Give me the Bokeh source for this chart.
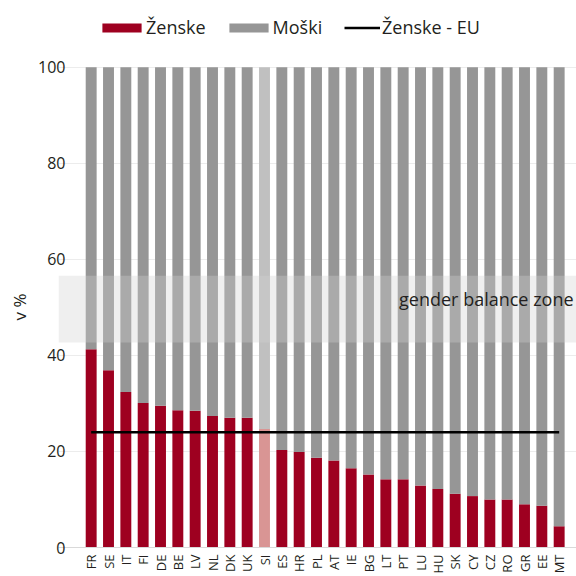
from bokeh.plotting import figure
from bokeh.models import (ColumnDataSource, Range1d, FixedTicker, BoxAnnotation,
                          Label, Legend, LegendItem, Title)
from bokeh.embed import file_html
from bokeh.resources import INLINE
import math

countries = ["FR", "SE", "IT", "FI", "DE", "BE", "LV", "NL", "DK", "UK", "SI", "ES", "HR", "PL",
             "AT", "IE", "BG", "LT", "PT", "LU", "HU", "SK", "CY", "CZ", "RO", "GR", "EE", "MT"]
women = [41.3, 36.9, 32.4, 30.1, 29.5, 28.6, 28.5, 27.4, 27.0, 27.0, 24.7, 20.3, 19.9, 18.7,
         18.1, 16.5, 15.2, 14.2, 14.2, 12.9, 12.2, 11.2, 10.7, 10.0, 10.0, 9.0, 8.7, 4.4]
total = 100
eu_women = 24.0
zone_low, zone_high = 42.7, 56.6
zone_label = "gender balance zone"
highlight = "SI"
y_ticks = [0, 20, 40, 60, 80, 100]
y_label = "v %"

RED, GREY = "#9e0020", "#969696"
RED_L, GREY_L = "#d99594", "#c0c0c0"
TXT = "#231f20"
FONT = "Open Sans"

n = len(countries)
xs = list(range(n))
src = ColumnDataSource(dict(
    x=xs,
    women=women,
    total=[total] * n,
    wcol=[RED_L if c == highlight else RED for c in countries],
    mcol=[GREY_L if c == highlight else GREY for c in countries],
))

# frame: x 56..576, y 0..549 (value 100 at pixel 67); extra headroom holds the legend
p = figure(width=576, height=576, x_range=Range1d(-1.885, n - 1 + 1.0),
           y_range=Range1d(0, 113.9),
           output_backend="svg", toolbar_location=None,
           min_border_left=56, min_border_right=0, min_border_top=0, min_border_bottom=27)
p.outline_line_color = None
p.background_fill_color = "white"
p.border_fill_color = "white"

rw = p.vbar(x="x", width=0.63, bottom=0, top="women", source=src,
            fill_color="wcol", line_color=None)
rm = p.vbar(x="x", width=0.63, bottom="women", top="total", source=src,
            fill_color="mcol", line_color=None)
rl = p.line(x=[xs[0], xs[-1]], y=[eu_women, eu_women], line_color="black", line_width=2.6)

zone = BoxAnnotation(bottom=zone_low, top=zone_high, fill_color="#d2d2d2", fill_alpha=0.35,
                     line_alpha=0)
p.add_layout(zone)
p.add_layout(Label(x=n - 1 + 0.83, y=51.7, text=zone_label, text_align="right",
                   text_baseline="middle", text_font=FONT, text_font_size="18px",
                   text_color=TXT))

# axes
p.xaxis.ticker = FixedTicker(ticks=xs)
p.xaxis.major_label_overrides = {i: c for i, c in enumerate(countries)}
p.xaxis.major_label_orientation = math.pi / 2
p.xaxis.major_label_text_font = FONT
p.xaxis.major_label_text_font_size = "13px"
p.xaxis.major_label_text_color = TXT
p.xaxis.major_label_standoff = 7
p.xaxis.major_tick_out = 0
p.xaxis.major_tick_in = 0
p.xaxis.minor_tick_out = 0
p.xaxis.minor_tick_in = 0
p.xaxis.major_tick_line_color = None
p.xaxis.minor_tick_line_color = None
p.xaxis.axis_line_color = "#d9d9d9"

p.yaxis.ticker = FixedTicker(ticks=y_ticks)
p.yaxis.major_label_text_font = FONT
p.yaxis.major_label_text_font_size = "16px"
p.yaxis.major_label_text_color = TXT
p.yaxis.major_label_standoff = -7
p.yaxis.major_tick_out = 0
p.yaxis.major_tick_in = 0
p.yaxis.minor_tick_out = 0
p.yaxis.minor_tick_in = 0
p.yaxis.major_tick_line_color = None
p.yaxis.minor_tick_line_color = None
p.yaxis.axis_line_color = None

# y-axis caption as a left-side title, centred on the 0-100 span (offset from frame bottom)
p.add_layout(Title(text=y_label, align="left", offset=227, text_font=FONT,
                   text_font_size="17px", text_font_style="normal", text_color=TXT),
             "left")

p.xgrid.grid_line_color = None
p.ygrid.grid_line_color = "#ececec"

common = dict(orientation="horizontal", padding=0, margin=0,
              label_height=20, label_text_font=FONT, label_text_font_size="18px",
              label_text_color=TXT, border_line_alpha=0, background_fill_alpha=0)
legend_bars = Legend(items=[
    LegendItem(label="Ženske", renderers=[rw], index=0),
    LegendItem(label="Moški", renderers=[rm], index=0),
], location=(39, 508), spacing=18, glyph_width=49, glyph_height=11, label_standoff=0, **common)
legend_line = Legend(items=[
    LegendItem(label="Ženske - EU", renderers=[rl]),
], location=(286, 508), glyph_width=36, glyph_height=11, label_standoff=2, **common)
p.add_layout(legend_bars)
p.add_layout(legend_line)

open("out.html", "w").write(file_html(p, INLINE))
